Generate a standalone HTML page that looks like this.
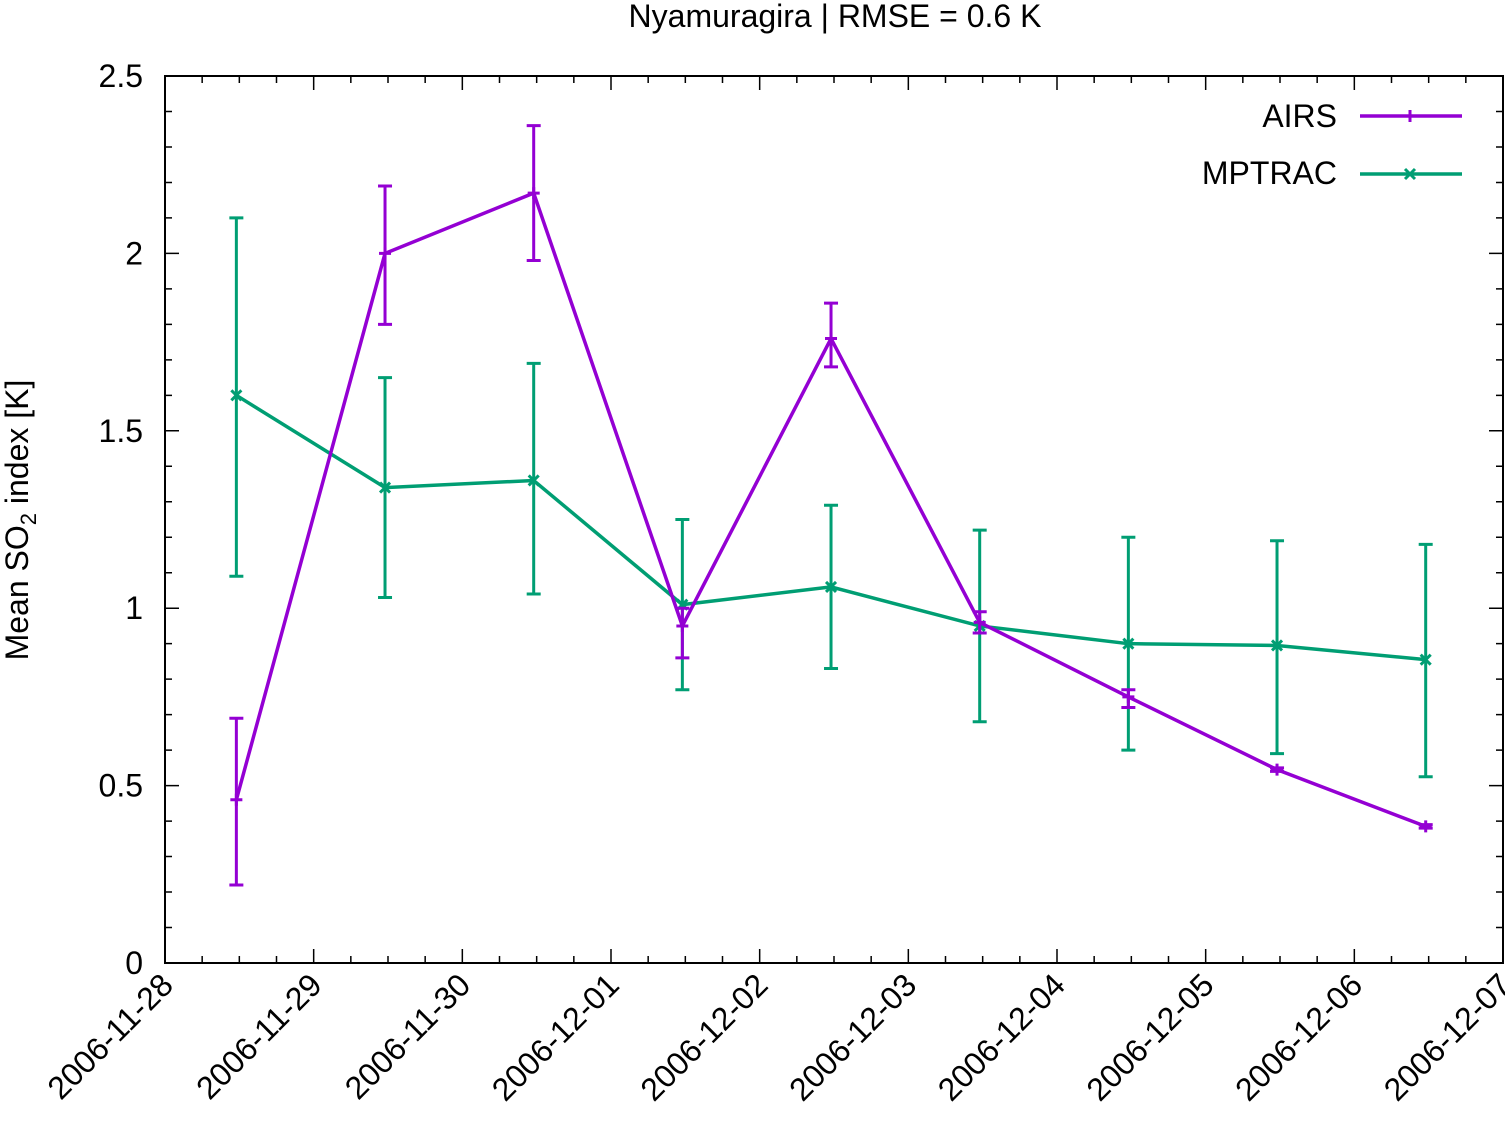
<!DOCTYPE html>
<html><head><meta charset="utf-8"><style>
html,body{margin:0;padding:0;background:#fff}
svg{display:block;font-family:"Liberation Sans",sans-serif}
</style></head><body>
<svg id="chart" width="1505" height="1127" xmlns="http://www.w3.org/2000/svg">
<text x="835" y="27" font-size="32" text-anchor="middle">Nyamuragira | RMSE = 0.6 K</text>
<text transform="translate(28,520) rotate(-90)" font-size="32" text-anchor="middle">Mean SO<tspan font-size="22" dy="8">2</tspan><tspan dy="-8"> index [K]</tspan></text>
<g id="axes"></g><g id="series"></g>
<rect x="165" y="76" width="1338" height="887" fill="none" stroke="#000" stroke-width="2"/>
<g>
<text x="1337" y="127" font-size="32" text-anchor="end">AIRS</text>
<line x1="1360" y1="116" x2="1462" y2="116" stroke="#9400d3" stroke-width="3.5"/>
<path d="M1404 116h12M1410 110v12" stroke="#9400d3" stroke-width="3"/>
<text x="1337" y="184" font-size="32" text-anchor="end">MPTRAC</text>
<line x1="1360" y1="174" x2="1462" y2="174" stroke="#009e73" stroke-width="3.5"/>
<path d="M1405 169l10 10M1415 169l-10 10" stroke="#009e73" stroke-width="3"/>
</g>
</svg>
<script>
const dates=["2006-11-28","2006-11-29","2006-11-30","2006-12-01","2006-12-02","2006-12-03","2006-12-04","2006-12-05","2006-12-06","2006-12-07"];
const yTicks=[0,0.5,1,1.5,2,2.5];
const dayPos=[0.48,1.48,2.48,3.48,4.48,5.48,6.48,7.48,8.48];
const airs=[0.46,2.0,2.17,0.95,1.76,0.96,0.75,0.545,0.385];
const airsLo=[0.22,1.80,1.98,0.86,1.68,0.93,0.72,0.54,0.38];
const airsHi=[0.69,2.19,2.36,1.0,1.86,0.99,0.77,0.55,0.39];
const mp=[1.6,1.34,1.36,1.01,1.06,0.95,0.90,0.895,0.855];
const mpLo=[1.09,1.03,1.04,0.77,0.83,0.68,0.60,0.59,0.525];
const mpHi=[2.10,1.65,1.69,1.25,1.29,1.22,1.20,1.19,1.18];
const X0=165,X1=1503,Y0=963,Y1=76;
const xs=d=>X0+d*(X1-X0)/9, ys=v=>Y0-v*(Y0-Y1)/2.5;
const NS="http://www.w3.org/2000/svg";
function mk(t,a,p){const e=document.createElementNS(NS,t);for(const k in a)e.setAttribute(k,a[k]);p.appendChild(e);return e;}
const ax=document.getElementById('axes');
for(let i=0;i<=25;i++){const y=ys(i/10),L=i%5==0?14:7;
 const t=mk('path',{d:`M${X0} ${y}h${L}M${X1} ${y}h${-L}`,stroke:'#000','stroke-width':1.5},ax);
 }
yTicks.forEach(v=>{const t=mk('text',{x:X0-22,y:ys(v)+11,'font-size':32,'text-anchor':'end'},ax);t.textContent=String(v);
 });
for(let i=0;i<=36;i++){const x=xs(i/4),L=i%4==0?14:7;
 const t=mk('path',{d:`M${x} ${Y0}v${-L}M${x} ${Y1}v${L}`,stroke:'#000','stroke-width':1.5},ax);
 }
dates.forEach((d,i)=>{const x=xs(i);const t=mk('text',{transform:`translate(${x+10},${Y0+24}) rotate(-45)`,'font-size':32,'text-anchor':'end'},ax);t.textContent=d;
 });
const sg=document.getElementById('series');
function series(vals,lo,hi,col,name,cross){
 const g=mk('g',{},sg);
 vals.forEach((v,i)=>{const x=xs(dayPos[i]);
  const e=mk('path',{d:`M${x} ${ys(lo[i])}V${ys(hi[i])}M${x-7} ${ys(lo[i])}h14M${x-7} ${ys(hi[i])}h14`,stroke:col,'stroke-width':3,fill:'none'},g);
  });
 const l=mk('polyline',{points:vals.map((v,i)=>xs(dayPos[i])+','+ys(v)).join(' '),stroke:col,'stroke-width':3.5,fill:'none'},g);
 
 vals.forEach((v,i)=>{const x=xs(dayPos[i]),y=ys(v);
  const p=mk('path',{d:cross?`M${x-5} ${y-5}l10 10M${x+5} ${y-5}l-10 10`:`M${x-6} ${y}h12M${x} ${y-6}v12`,stroke:col,'stroke-width':3},g);
  });
}
series(mp,mpLo,mpHi,'#009e73','mptrac',true);
series(airs,airsLo,airsHi,'#9400d3','airs',false);
</script>
</body></html>
